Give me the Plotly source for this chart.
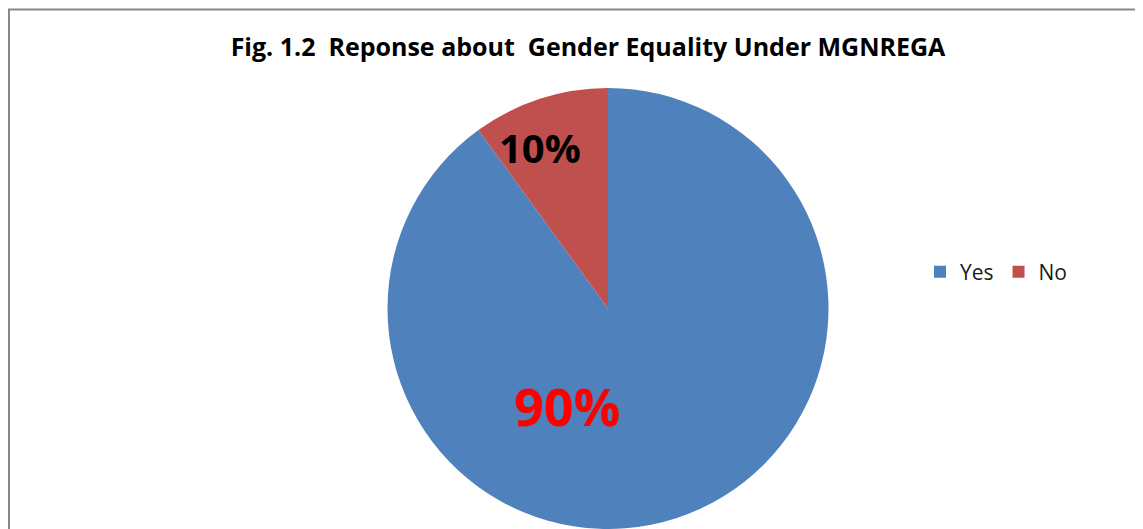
import plotly.graph_objects as go

labels = ["Yes", "No"]
values = [90, 10]
colors = ["#4F81BD", "#C0504D"]
label_colors = ["#FF0000", "#000000"]
label_sizes = [52, 40]
title_text = "Fig. 1.2  Reponse about  Gender Equality Under MGNREGA"

OFF = 8  # page body margin offset
W, H = 1143 - OFF, 529 - OFF

def px_x(x):
    return (x - OFF) / W

def px_y(y):
    return 1 - (y - OFF) / H

fig = go.Figure()
fig.add_trace(go.Pie(
    labels=labels,
    values=values,
    sort=False,
    direction="clockwise",
    rotation=0,
    marker=dict(colors=colors, line=dict(width=0)),
    textinfo="none",
    hoverinfo="label+percent",
    domain=dict(x=[px_x(387.5), px_x(828.5)], y=[px_y(529), px_y(88)]),
))

total = sum(values)
label_pos = [(567, 405), (540, 147)]
for v, c, s, (px, py) in zip(values, label_colors, label_sizes, label_pos):
    fig.add_annotation(
        x=px_x(px), y=px_y(py), xref="paper", yref="paper",
        text="<b>%d%%</b>" % round(100 * v / total),
        showarrow=False,
        font=dict(family="Open Sans", size=s, color=c),
        xanchor="center", yanchor="middle",
    )

# chart-area border: only left and top edges are visible in the crop
bx0, by1 = px_x(9), px_y(9.5)
fig.add_shape(type="path", xref="paper", yref="paper",
              path="M %f,%f L %f,%f L %f,%f" % (bx0, -0.05, bx0, by1, 1.0, by1),
              line=dict(color="#878787", width=2))

fig.update_layout(
    width=W, height=H,
    margin=dict(l=0, r=0, t=0, b=0),
    paper_bgcolor="white",
    plot_bgcolor="white",
    title=dict(text="<b>" + title_text + "</b>", x=px_x(588), xanchor="center",
               y=px_y(47), yanchor="middle",
               font=dict(family="Open Sans", size=25, color="#000000")),
    showlegend=True,
    legend=dict(orientation="h", x=px_x(920), y=px_y(272), xanchor="left", yanchor="middle",
                font=dict(family="Open Sans", size=21, color="#1a1a1a"),
                itemwidth=30, traceorder="normal", bgcolor="rgba(0,0,0,0)"),
)

fig.write_html(
    "out.html",
    post_script="document.documentElement.style.overflow='hidden';document.body.style.overflow='hidden';",
)
